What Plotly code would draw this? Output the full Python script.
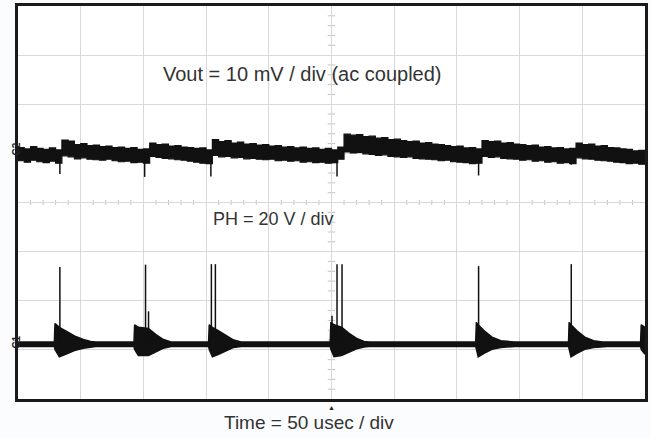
import plotly.graph_objects as go

# ---------------- data (read from the screen capture) ----------------
# time axis: 50 usec / div, 10 divisions
time_us = list(range(0, 505, 5))

# Vout (ac coupled, 10 mV/div) upper / lower envelope of the noisy trace, mV
vout_hi = [1.4, 1.1, 1.6, 1.2, 1.0, 1.3, 0.9,
           2.9, 2.7, 2.0, 2.2, 1.8, 1.9, 1.6, 1.7, 1.4, 1.5, 1.2, 1.4, 1.0, 1.1,
           2.3, 2.0, 2.1, 1.7, 1.8, 1.5, 1.4, 1.2, 1.3, 0.9,
           3.0, 2.6, 2.8, 2.3, 2.5, 2.1, 2.2, 1.9, 2.0, 1.7, 1.8, 1.5, 1.6, 1.3, 1.5, 1.2, 1.3, 1.0, 1.2, 0.9,
           1.5, 4.1, 3.9, 4.0, 3.6, 3.7, 3.3, 3.4, 3.0, 3.1, 2.8, 2.6, 2.7, 2.3, 2.4, 2.1, 2.0, 1.8, 1.6, 1.7, 1.3, 1.4, 1.1,
           2.8, 2.6, 2.7, 2.3, 2.4, 2.1, 2.0, 1.8, 1.9, 1.5, 1.6, 1.3, 1.4, 1.1, 1.2,
           2.3, 2.0, 2.1, 1.7, 1.8, 1.4, 1.3, 1.1, 1.0, 0.7, 0.8, 0.5]
vout_lo = [-1.3, -1.6, -1.2, -1.5, -1.7, -1.4, -1.8,
           -0.3, -0.5, -0.9, -0.7, -1.0, -1.1, -1.2, -1.0, -1.3, -1.5, -1.4, -1.7, -1.6, -1.8,
           -0.4, -0.6, -0.8, -0.9, -1.1, -1.2, -1.4, -1.6, -1.8, -1.9,
           -0.2, -0.5, -0.4, -0.7, -0.6, -0.9, -0.8, -1.0, -1.1, -1.0, -1.3, -1.2, -1.4, -1.3, -1.6, -1.5, -1.7, -1.6, -1.8, -1.7,
           -1.0, 0.5, 0.3, 0.4, 0.1, 0.0, -0.2, -0.1, -0.4, -0.5, -0.6, -0.5, -0.8, -0.9, -1.0, -1.1, -1.3, -1.2, -1.5, -1.6, -1.7, -1.9, -1.8,
           -0.4, -0.6, -0.5, -0.8, -0.9, -1.0, -1.2, -1.1, -1.4, -1.3, -1.6, -1.5, -1.8, -1.7, -1.9,
           -0.7, -0.9, -1.0, -1.2, -1.3, -1.4, -1.6, -1.7, -1.9, -1.8, -2.0, -2.1]
# downward glitches on Vout at each switching event (usec, mV)
vout_spike_t = [33.4, 101.0, 153.8, 254.4, 367.3, 441.2]
vout_spike_v = [-4.0, -4.6, -4.5, -4.5, -4.3, -2.1]

# PH (switch node, 20 V/div) envelope of baseline + ringing bursts, volts
ph_t = [0, 29.0, 29.5, 33, 38, 45, 52, 58, 62,
        92.5, 93, 96, 104, 110, 116, 122, 126,
        152.0, 152.5, 155, 160, 166, 172, 178, 182,
        249.0, 249.5, 252, 258, 264, 270, 276, 280,
        365.0, 365.5, 367, 372, 378, 385, 392, 396,
        439.0, 439.5, 441, 446, 452, 459, 466, 470,
        496.5, 497, 500]
ph_hi = [1.0, 1.0, 8.5, 7.0, 5.5, 3.5, 2.0, 1.2, 1.0,
         1.0, 8.0, 7.0, 6.5, 4.0, 2.0, 1.0, 1.0,
         1.0, 8.0, 7.0, 5.5, 3.5, 1.8, 1.0, 1.0,
         1.0, 9.0, 8.0, 7.0, 4.5, 2.5, 1.2, 1.0,
         1.0, 9.0, 8.0, 5.5, 3.0, 1.5, 1.0, 1.0,
         1.0, 9.0, 8.0, 5.5, 3.0, 1.5, 1.0, 1.0,
         1.0, 8.0, 7.0]
ph_lo = [-0.8, -0.8, -2.0, -5.0, -4.0, -2.5, -1.5, -1.0, -0.8,
         -0.8, -2.0, -4.5, -4.5, -3.0, -1.5, -0.8, -0.8,
         -0.8, -2.0, -5.0, -4.0, -2.5, -1.2, -0.8, -0.8,
         -0.8, -2.0, -5.0, -4.5, -3.0, -1.8, -1.0, -0.8,
         -0.8, -2.0, -5.0, -3.5, -2.0, -1.2, -0.8, -0.8,
         -0.8, -2.0, -5.0, -3.5, -2.0, -1.2, -0.8, -0.8,
         -0.8, -2.0, -4.0]
# PH switching spikes (usec, volts)
ph_spike_t = [33.4, 101.7, 104.1, 154.2, 157.4, 250.4, 254.4, 258.4, 367.3, 441.2]
ph_spike_v = [31.5, 32.5, 13.5, 32.7, 32.7, 11.7, 32.7, 32.7, 31.9, 32.7]

# channel scales / screen offsets (divisions)
VOUT_MV_PER_DIV = 10
PH_V_PER_DIV = 20
VOUT_OFFSET_DIV = 0.98
PH_OFFSET_DIV = -2.89


def vdiv(v):
    return VOUT_OFFSET_DIV + v / VOUT_MV_PER_DIV


def pdiv(v):
    return PH_OFFSET_DIV + v / PH_V_PER_DIV


fig = go.Figure()
INK = "#111111"

# Vout band
fig.add_trace(go.Scatter(x=time_us, y=[vdiv(v) for v in vout_lo], mode="lines",
                         line=dict(color=INK, width=1.2, shape="hv"), hoverinfo="skip"))
fig.add_trace(go.Scatter(x=time_us, y=[vdiv(v) for v in vout_hi], mode="lines",
                         line=dict(color=INK, width=1.2, shape="hv"), fill="tonexty",
                         fillcolor=INK, hoverinfo="skip"))
sx, sy = [], []
for t, v in zip(vout_spike_t, vout_spike_v):
    sx += [t, t, None]
    sy += [vdiv(0), vdiv(v), None]
fig.add_trace(go.Scatter(x=sx, y=sy, mode="lines", line=dict(color=INK, width=1.5),
                         hoverinfo="skip"))

# PH band
fig.add_trace(go.Scatter(x=ph_t, y=[pdiv(v) for v in ph_lo], mode="lines",
                         line=dict(color=INK, width=1.5), hoverinfo="skip"))
fig.add_trace(go.Scatter(x=ph_t, y=[pdiv(v) for v in ph_hi], mode="lines",
                         line=dict(color=INK, width=1.5), fill="tonexty",
                         fillcolor=INK, hoverinfo="skip"))
px_, py_ = [], []
for t, v in zip(ph_spike_t, ph_spike_v):
    px_ += [t, t, None]
    py_ += [pdiv(0), pdiv(v), None]
fig.add_trace(go.Scatter(x=px_, y=py_, mode="lines", line=dict(color=INK, width=1.5),
                         hoverinfo="skip"))

# centre cross-hair minor ticks
shapes = []
for i in range(1, 50):
    t = i * 10
    if t % 50:
        shapes.append(dict(type="line", xref="x", yref="y", x0=t, x1=t, y0=-0.05, y1=0.05,
                           line=dict(color="#c4c4c4", width=1), layer="below"))
for i in range(-19, 20):
    y = i * 0.2
    if i % 5:
        shapes.append(dict(type="line", xref="x", yref="y", x0=247, x1=253, y0=y, y1=y,
                           line=dict(color="#c4c4c4", width=1), layer="below"))

FAM = "Liberation Sans, Arial, sans-serif"
annotations = [
    dict(x=227, y=2.62, xref="x", yref="y", text="Vout = 10 mV / div (ac coupled)",
         showarrow=False, font=dict(family=FAM, size=20, color="#333333")),
    dict(x=204, y=-0.34, xref="x", yref="y", text="PH = 20 V / div",
         showarrow=False, font=dict(family=FAM, size=18, color="#333333")),
    dict(x=0.464, y=-0.06, xref="paper", yref="paper", text="Time = 50 usec / div",
         showarrow=False, font=dict(family=FAM, size=19, color="#333333"), yanchor="middle"),
    dict(x=-0.015, y=VOUT_OFFSET_DIV + 0.1, xref="paper", yref="y", text="<b>C2</b>",
         showarrow=False, textangle=-90,
         font=dict(family=FAM, size=10, color="#222")),
    dict(x=-0.015, y=PH_OFFSET_DIV + 0.04, xref="paper", yref="y", text="<b>C1</b>",
         showarrow=False, textangle=-90,
         font=dict(family=FAM, size=10, color="#222")),
    dict(x=250, y=-0.006, xref="x", yref="paper", text="▲", showarrow=False,
         yanchor="top", font=dict(size=7, color="#222")),
]

fig.update_layout(
    width=651, height=438,
    margin=dict(l=18, r=4, t=3, b=39),
    paper_bgcolor="#fbfcfd", plot_bgcolor="#ffffff",
    showlegend=False,
    shapes=shapes,
    annotations=annotations,
    xaxis=dict(range=[0, 500], dtick=50, tick0=0, showgrid=True, gridcolor="#d9d9d9",
               gridwidth=1, zeroline=False, showticklabels=False, ticks="",
               showline=True, mirror=True, linecolor="#1a1a1a", linewidth=3, fixedrange=True),
    yaxis=dict(range=[-4, 4], dtick=1, tick0=0, showgrid=True, gridcolor="#d9d9d9",
               gridwidth=1, zeroline=False, showticklabels=False, ticks="",
               showline=True, mirror=True, linecolor="#1a1a1a", linewidth=3, fixedrange=True),
)

fig.write_html("out.html", config={"displayModeBar": False},
               post_script="document.body.style.margin='0px';document.body.style.overflow='hidden';")
